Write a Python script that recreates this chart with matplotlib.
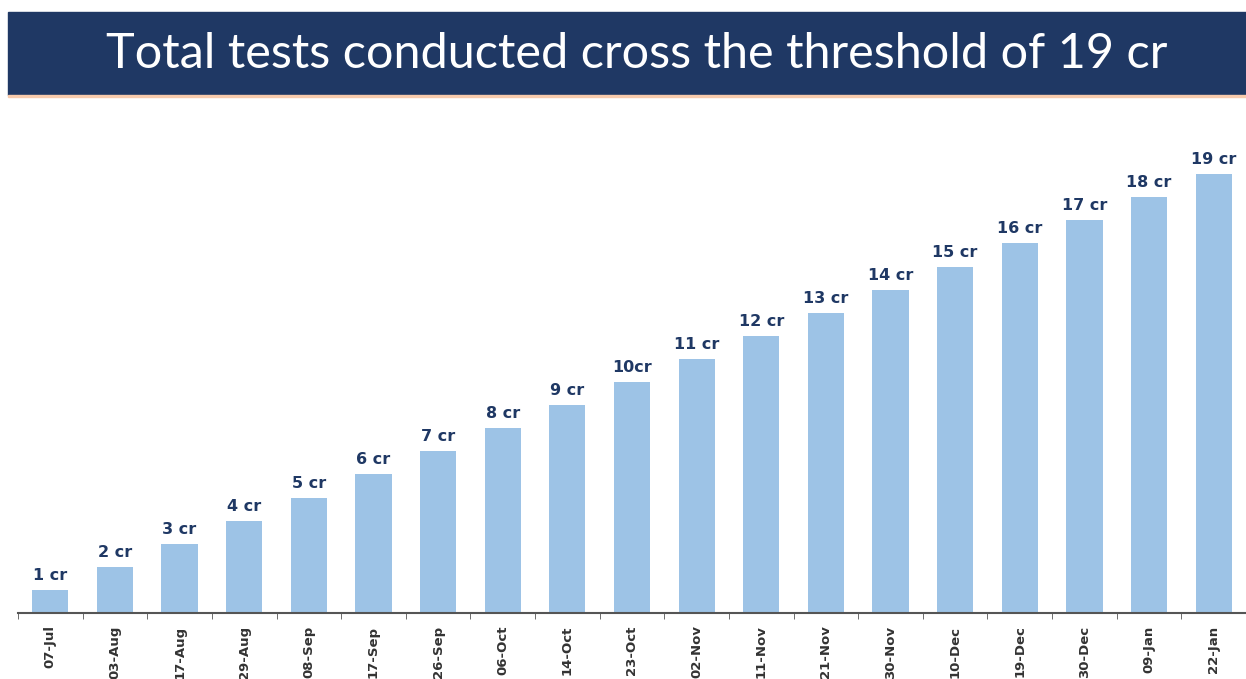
import matplotlib.pyplot as plt
from matplotlib.patches import Rectangle

dates = ['07-Jul', '03-Aug', '17-Aug', '29-Aug', '08-Sep', '17-Sep', '26-Sep',
         '06-Oct', '14-Oct', '23-Oct', '02-Nov', '11-Nov', '21-Nov', '30-Nov',
         '10-Dec', '19-Dec', '30-Dec', '09-Jan', '22-Jan']
tests_cr = [1, 2, 3, 4, 5, 6, 7, 8, 9, 10, 11, 12, 13, 14, 15, 16, 17, 18, 19]
bar_labels = ['1 cr', '2 cr', '3 cr', '4 cr', '5 cr', '6 cr', '7 cr', '8 cr',
              '9 cr', '10cr', '11 cr', '12 cr', '13 cr', '14 cr', '15 cr',
              '16 cr', '17 cr', '18 cr', '19 cr']

W, H = 1246, 679
fig = plt.figure(figsize=(W / 100, H / 100), dpi=100)

# header band with thin orange rule underneath
fig.patches.append(Rectangle((8 / W, 1 - 95 / H), 1 - 8 / W, 83 / H,
                             transform=fig.transFigure, color='#1F3864', zorder=0))
fig.patches.append(Rectangle((8 / W, 1 - 97 / H), 1 - 8 / W, 2 / H,
                             transform=fig.transFigure, color='#F8CBAD', zorder=0))
fig.text(637 / W, 1 - 54 / H, 'Total tests conducted cross the threshold of 19 cr',
         color='white', fontsize=35, family='Lato', ha='center', va='center')

ax = fig.add_axes([18 / W, 1 - 613 / H, 1 - 18 / W, 20.5 * 23.1 / H])
x = range(len(dates))
ax.bar(x, tests_cr, width=0.56, color='#9DC3E6')
for xi, v, lab in zip(x, tests_cr, bar_labels):
    ax.annotate(lab, (xi, v), xytext=(0, 5), textcoords='offset points',
                ha='center', va='bottom', fontsize=11.5, fontweight='bold',
                color='#1F3864', family='DejaVu Sans')

ax.set_xlim(-0.5, len(dates) - 0.5)
ax.set_ylim(0, 20.5)
ax.set_xticks(list(x))
ax.set_xticklabels(dates, rotation=90, fontsize=9.5, fontweight='bold', color='#333333')
ax.tick_params(axis='x', which='major', length=0, pad=9)
ax.set_xticks([i + 0.5 for i in range(-1, len(dates))], minor=True)
ax.tick_params(axis='x', which='minor', length=4, color='#555555')
ax.set_yticks([])
for s in ['top', 'right', 'left']:
    ax.spines[s].set_visible(False)
ax.spines['bottom'].set_color('#555555')
ax.spines['bottom'].set_linewidth(1.5)

fig.savefig('out.png', dpi=100)
